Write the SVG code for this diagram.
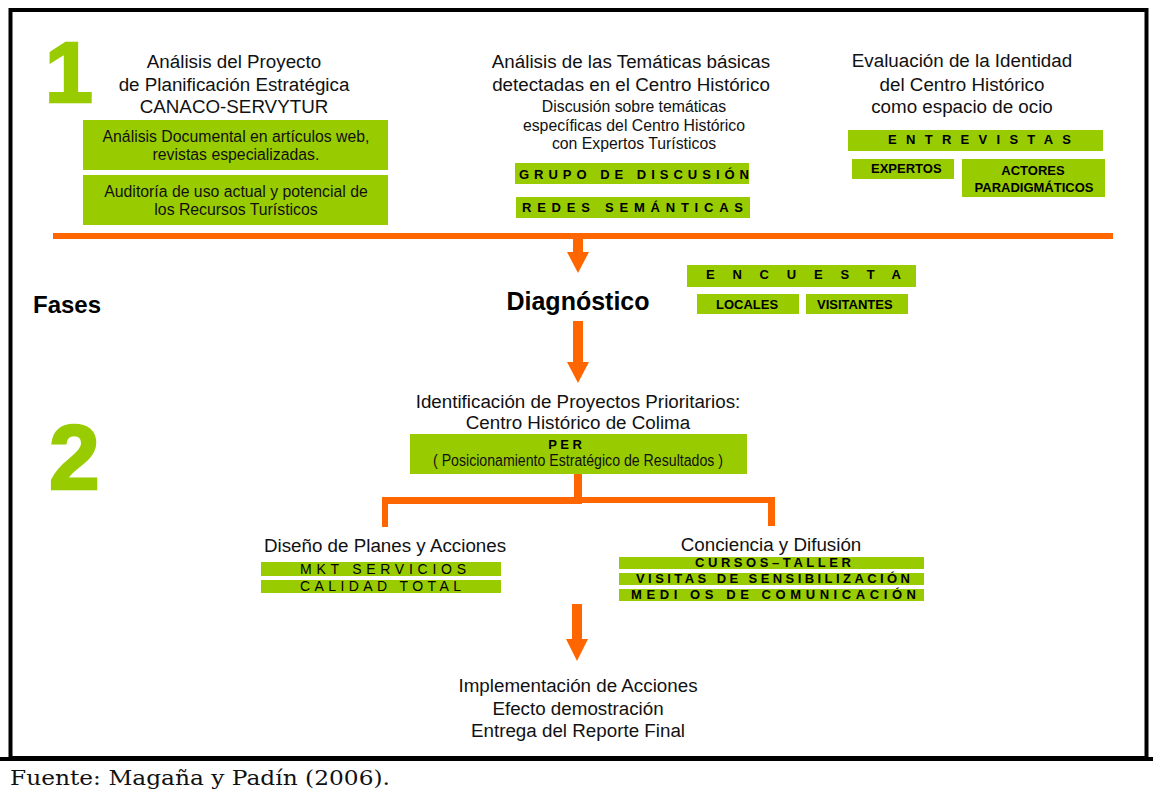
<svg xmlns="http://www.w3.org/2000/svg" width="1153" height="798" viewBox="0 0 1153 798">
<style>
.h{font-family:"Liberation Sans",Arial,sans-serif;font-size:18.8px;fill:#111;text-anchor:middle}
.s{font-family:"Liberation Sans",Arial,sans-serif;font-size:15.8px;fill:#111;text-anchor:middle}
.b{font-family:"Liberation Sans",Arial,sans-serif;font-weight:bold;font-size:13px;fill:#000}
.r{font-family:"Liberation Sans",Arial,sans-serif;font-size:14px;fill:#000}
.g{fill:#99CC00}
.o{fill:#FF6600}
.num{font-family:"Liberation Sans",Arial,sans-serif;font-weight:bold;fill:#99CC00;stroke:#99CC00;stroke-width:2.5}
</style>
<rect x="0" y="0" width="1153" height="798" fill="#fff"/>
<rect x="10.5" y="10" width="1136" height="748" fill="none" stroke="#000" stroke-width="4"/>
<line x1="0" y1="759" x2="1153" y2="759" stroke="#000" stroke-width="4"/>
<text x="10" y="785" font-family="DejaVu Serif,'Liberation Serif',serif" font-size="21" fill="#111" textLength="380" lengthAdjust="spacingAndGlyphs">Fuente: Magaña y Padín (2006).</text>

<g id="numbers">
<text class="num" x="45" y="102" font-size="86">1</text>
<text class="num" x="49" y="489" font-size="91">2</text>
<text x="33" y="313" font-family="'Liberation Sans',Arial,sans-serif" font-weight="bold" font-size="24" fill="#000">Fases</text>
</g>

<g id="connectors">
<rect class="o" x="53" y="233" width="1060" height="6"/>
<path class="o" d="M573 239H583V252H589L578 273L567 252H573Z"/>
<path class="o" d="M573 321H583V362H589L578 383L567 362H573Z"/>
<path class="o" d="M574 474H582V504H388V527H382V497H574Z"/>
<path class="o" d="M580 497H775V526H768V503H580Z"/>
<path class="o" d="M572 604H582V639H588L577 661L566 639H572Z"/>
</g>

<g id="fase1-proyecto">
<text class="h" x="234" y="68">Análisis del Proyecto</text>
<text class="h" x="234" y="91">de Planificación Estratégica</text>
<text class="h" x="234" y="113">CANACO-SERVYTUR</text>
<rect class="g" x="83" y="120" width="305" height="50"/>
<text class="s" x="236" y="142">Análisis Documental en artículos web,</text>
<text class="s" x="236" y="160">revistas especializadas.</text>
<rect class="g" x="83" y="175" width="305" height="50"/>
<text class="s" x="236" y="197">Auditoría de uso actual y potencial de</text>
<text class="s" x="236" y="215">los Recursos Turísticos</text>
</g>

<g id="fase1-tematicas">
<text class="h" x="631" y="68">Análisis de las Temáticas básicas</text>
<text class="h" x="631" y="91">detectadas en el Centro Histórico</text>
<text class="s" x="634" y="112">Discusión sobre temáticas</text>
<text class="s" x="634" y="131">específicas del Centro Histórico</text>
<text class="s" x="634" y="149">con Expertos Turísticos</text>
<rect class="g" x="515" y="163" width="234" height="21"/>
<text class="b" x="519" y="179" textLength="230" lengthAdjust="spacing">GRUPO DE DISCUSIÓN</text>
<rect class="g" x="516" y="197" width="234" height="21"/>
<text class="b" x="522" y="212" textLength="221" lengthAdjust="spacing">REDES  SEMÁNTICAS</text>
</g>

<g id="fase1-identidad">
<text class="h" x="962" y="67">Evaluación de la Identidad</text>
<text class="h" x="962" y="91">del Centro Histórico</text>
<text class="h" x="962" y="113">como espacio de ocio</text>
<rect class="g" x="848" y="130" width="255" height="21"/>
<text class="b" x="888" y="144" textLength="183" lengthAdjust="spacing">ENTREVISTAS</text>
<rect class="g" x="852" y="159" width="102" height="20"/>
<text class="b" x="871" y="173" font-size="14">EXPERTOS</text>
<rect class="g" x="962" y="159" width="143" height="38"/>
<text class="b" x="1033" y="175" font-size="14" text-anchor="middle">ACTORES</text>
<text class="b" x="1034" y="192" font-size="14" text-anchor="middle">PARADIGMÁTICOS</text>
</g>

<g id="diagnostico">
<text x="578" y="310" font-family="'Liberation Sans',Arial,sans-serif" font-weight="bold" font-size="25" fill="#000" text-anchor="middle">Diagnóstico</text>
</g>

<g id="encuesta">
<rect class="g" x="687" y="265" width="229" height="22"/>
<text class="b" x="706" y="279" textLength="195" lengthAdjust="spacing">ENCUESTA</text>
<rect class="g" x="697" y="294" width="102" height="20"/>
<text class="b" x="716" y="309">LOCALES</text>
<rect class="g" x="806" y="294" width="102" height="20"/>
<text class="b" x="817" y="309">VISITANTES</text>
</g>

<g id="per">
<text class="h" x="578" y="408">Identificación de Proyectos Prioritarios:</text>
<text class="h" x="578" y="429">Centro Histórico de Colima</text>
<rect class="g" x="410" y="434" width="337" height="40"/>
<text class="b" x="565" y="449" text-anchor="middle">P  E  R</text>
<text class="s" x="578" y="466" textLength="290" lengthAdjust="spacingAndGlyphs">( Posicionamiento Estratégico de Resultados )</text>
</g>

<g id="diseno">
<text class="h" x="385" y="552">Diseño de Planes y Acciones</text>
<rect class="g" x="261" y="562" width="240" height="14"/>
<text class="r" x="300" y="574" textLength="166" lengthAdjust="spacing">MKT  SERVICIOS</text>
<rect class="g" x="261" y="580" width="240" height="13"/>
<text class="r" x="300" y="591" textLength="161" lengthAdjust="spacing">CALIDAD TOTAL</text>
</g>

<g id="conciencia">
<text class="h" x="771" y="551">Conciencia y Difusión</text>
<rect class="g" x="619" y="557" width="305" height="12"/>
<text class="b" x="695" y="567" font-size="11.5" textLength="156" lengthAdjust="spacing">CURSOS–TALLER</text>
<rect class="g" x="619" y="573" width="305" height="12"/>
<text class="b" x="636" y="583" font-size="11.5" textLength="274" lengthAdjust="spacing">VISITAS DE SENSIBILIZACIÓN</text>
<rect class="g" x="619" y="589" width="305" height="12"/>
<text class="b" x="631" y="599" font-size="11.5" textLength="285" lengthAdjust="spacing">MEDI OS  DE  COMUNICACIÓN</text>
</g>

<g id="implementacion">
<text class="h" x="578" y="692">Implementación de Acciones</text>
<text class="h" x="578" y="715">Efecto demostración</text>
<text class="h" x="578" y="737">Entrega del Reporte Final</text>
</g>
</svg>
